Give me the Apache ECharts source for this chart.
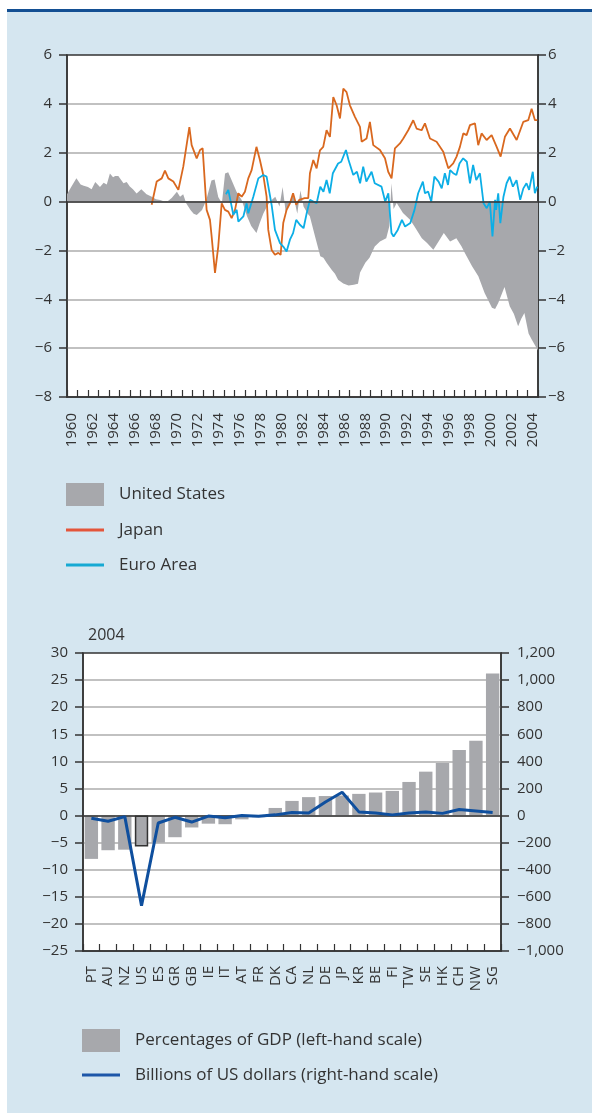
<!DOCTYPE html>
<html>
<head>
<meta charset="utf-8">
<script src="https://cdn.jsdelivr.net/npm/echarts@6/dist/echarts.min.js"></script>
<style>
  html, body { margin: 0; padding: 0; background: #fff; }
  .panel {
    position: absolute; left: 7px; top: 9px; width: 585px; height: 1104px;
    background: #d5e6f0; border-top: 3px solid #134f93; box-sizing: border-box;
  }
  #chart { position: absolute; left: 0; top: 0; width: 592px; height: 1113px; }
</style>
</head>
<body>
<div class="panel"></div>
<div id="chart"></div>
<script>
// 上图：经常账户余额（占 GDP 百分比），[年份, 数值]
const usBalance = [
  [1960.0, 0.3], [1960.4, 0.6], [1960.9, 0.95], [1961.3, 0.7], [1961.6, 0.65], [1962.0, 0.6],
  [1962.35, 0.5], [1962.7, 0.8], [1963.15, 0.6], [1963.5, 0.77], [1963.8, 0.7], [1964.1, 1.15],
  [1964.4, 1.0], [1964.6, 1.05], [1964.9, 1.05], [1965.4, 0.75], [1965.7, 0.8], [1966.0, 0.62],
  [1966.3, 0.5], [1966.65, 0.33], [1967.1, 0.5], [1967.6, 0.3], [1968.1, 0.2], [1968.5, 0.1],
  [1968.9, 0.06], [1969.5, -0.03], [1970.0, 0.15], [1970.5, 0.4], [1970.8, 0.2], [1971.1, 0.3],
  [1971.4, -0.08], [1971.8, -0.35], [1972.1, -0.5], [1972.4, -0.55], [1972.9, -0.35], [1973.3, 0.05],
  [1973.8, 0.86], [1974.1, 0.9], [1974.45, 0.19], [1974.8, -0.07], [1975.1, 1.15], [1975.4, 1.2],
  [1975.7, 0.9], [1976.2, 0.4], [1976.7, 0.05], [1977.2, -0.6], [1977.6, -1.0], [1978.1, -1.29],
  [1978.4, -0.9], [1978.75, -0.5], [1979.1, -0.2], [1979.4, 0.0], [1979.9, 0.2], [1980.3, -0.2],
  [1980.6, 0.6], [1980.9, -0.45], [1981.3, 0.0], [1981.6, 0.3], [1982.0, -0.5], [1982.3, 0.45],
  [1982.6, -0.2], [1983.0, -0.5], [1983.2, -0.6], [1983.7, -1.43], [1984.2, -2.24], [1984.5, -2.3],
  [1984.8, -2.5], [1985.3, -2.8], [1985.6, -2.95], [1985.9, -3.2], [1986.4, -3.35], [1986.9, -3.44],
  [1987.4, -3.4], [1987.8, -3.36], [1988.0, -2.9], [1988.5, -2.5], [1988.9, -2.3], [1989.4, -1.84],
  [1989.9, -1.63], [1990.5, -1.5], [1990.8, -1.0], [1991.0, 0.75], [1991.2, -0.3], [1991.5, -0.06],
  [1992.1, -0.47], [1992.8, -0.75], [1993.2, -1.02], [1993.9, -1.5], [1994.4, -1.7], [1995.0, -1.97],
  [1995.5, -1.63], [1996.0, -1.29], [1996.6, -1.63], [1997.2, -1.5], [1997.7, -1.84], [1998.0, -2.1],
  [1998.7, -2.65], [1999.3, -3.06], [1999.9, -3.74], [2000.6, -4.35], [2000.9, -4.4], [2001.2, -4.15],
  [2001.8, -3.5], [2002.3, -4.28], [2002.7, -4.6], [2003.1, -5.1], [2003.4, -4.8], [2003.7, -4.56],
  [2004.1, -5.4], [2004.4, -5.65], [2005.0, -6.1]
];

const japanBalance = [
  [1968.09, -0.13], [1968.57, 0.82], [1969.05, 0.95], [1969.36, 1.27], [1969.68, 0.95], [1970.16, 0.82],
  [1970.64, 0.48], [1971.11, 1.43], [1971.69, 3.05], [1971.91, 2.31], [1972.39, 1.77], [1972.71, 2.11],
  [1972.96, 2.18], [1973.34, -0.34], [1973.66, -0.75], [1973.82, -1.43], [1974.14, -2.92], [1974.45, -1.84],
  [1974.78, -0.07], [1975.09, -0.34], [1975.41, -0.41], [1975.73, -0.68], [1976.05, -0.34], [1976.37, 0.34],
  [1976.69, 0.2], [1977.0, 0.4], [1977.32, 0.95], [1977.64, 1.29], [1978.1, 2.24], [1978.43, 1.7],
  [1978.75, 1.09], [1979.07, 0.2], [1979.23, -1.16], [1979.55, -1.98], [1979.87, -2.18], [1980.19, -2.1],
  [1980.41, -2.18], [1980.66, -0.88], [1980.98, -0.34], [1981.3, -0.07], [1981.6, 0.34], [1981.9, -0.13],
  [1982.2, 0.07], [1982.7, 0.14], [1983.05, 0.14], [1983.21, 1.16], [1983.53, 1.7], [1983.85, 1.36],
  [1984.17, 2.1], [1984.48, 2.24], [1984.8, 2.92], [1985.12, 2.65], [1985.44, 4.28], [1985.76, 3.94],
  [1986.08, 3.4], [1986.4, 4.62], [1986.71, 4.48], [1987.03, 3.94], [1987.51, 3.47], [1987.99, 3.06],
  [1988.15, 2.45], [1988.62, 2.58], [1988.94, 3.26], [1989.26, 2.31], [1989.9, 2.11], [1990.38, 1.77],
  [1990.69, 1.22], [1991.01, 0.95], [1991.33, 2.18], [1991.81, 2.38], [1992.13, 2.58], [1992.6, 2.92],
  [1993.08, 3.33], [1993.4, 2.99], [1993.88, 2.92], [1994.2, 3.2], [1994.68, 2.58], [1995.31, 2.45],
  [1995.95, 2.04], [1996.43, 1.36], [1996.9, 1.56], [1997.22, 1.84], [1997.54, 2.24], [1997.86, 2.79],
  [1998.18, 2.72], [1998.5, 3.13], [1998.98, 3.2], [1999.29, 2.31], [1999.61, 2.79], [2000.09, 2.52],
  [2000.57, 2.72], [2001.05, 2.24], [2001.43, 1.84], [2001.84, 2.65], [2002.32, 2.99], [2002.96, 2.52],
  [2003.59, 3.26], [2004.07, 3.33], [2004.39, 3.8], [2004.71, 3.33], [2004.93, 3.33]
];

const euroBalance = [
  [1975.19, 0.3], [1975.41, 0.48], [1975.57, 0.14], [1975.89, -0.54], [1976.21, -0.34], [1976.37, -0.82],
  [1976.85, -0.61], [1977.16, -0.07], [1977.32, -0.48], [1977.8, 0.2], [1978.28, 0.95], [1978.75, 1.09],
  [1979.07, 1.02], [1979.55, -0.14], [1979.87, -1.16], [1980.35, -1.7], [1980.66, -1.84], [1980.98, -2.04],
  [1981.3, -1.56], [1981.6, -1.29], [1981.9, -0.75], [1982.25, -0.95], [1982.6, -1.09], [1982.9, -0.48],
  [1983.21, 0.07], [1983.4, 0.07], [1983.85, -0.07], [1984.2, 0.61], [1984.5, 0.4], [1984.8, 0.88],
  [1985.1, 0.34], [1985.4, 1.16], [1985.9, 1.56], [1986.2, 1.63], [1986.65, 2.11], [1986.9, 1.7],
  [1987.35, 1.09], [1987.7, 1.22], [1988.0, 0.75], [1988.3, 1.43], [1988.6, 0.82], [1989.1, 1.22],
  [1989.4, 0.75], [1990.05, 0.61], [1990.4, 0.0], [1990.7, 0.34], [1991.0, -1.29], [1991.2, -1.43],
  [1991.6, -1.16], [1992.0, -0.75], [1992.3, -1.02], [1992.8, -0.88], [1993.2, -0.34], [1993.55, 0.34],
  [1994.0, 0.82], [1994.2, 0.34], [1994.5, 0.41], [1994.8, 0.0], [1995.1, 1.02], [1995.5, 0.82],
  [1995.8, 0.54], [1996.1, 1.16], [1996.4, 0.68], [1996.6, 1.29], [1996.9, 1.16], [1997.2, 1.09],
  [1997.5, 1.56], [1997.85, 1.77], [1998.2, 1.63], [1998.5, 0.75], [1998.8, 1.5], [1999.1, 0.88],
  [1999.45, 1.16], [1999.8, -0.07], [2000.1, -0.27], [2000.4, 0.0], [2000.65, -1.43], [2000.9, 0.07],
  [2001.0, -0.34], [2001.2, 0.34], [2001.4, -0.88], [2001.7, 0.2], [2002.0, 0.75], [2002.3, 1.02],
  [2002.6, 0.61], [2002.95, 0.88], [2003.3, 0.07], [2003.6, 0.54], [2003.9, 0.75], [2004.15, 0.48],
  [2004.5, 1.22], [2004.7, 0.34], [2004.93, 0.61]
];

const yearLabels = [];
for (let y = 1960; y <= 2004; y++) yearLabels.push(String(y));

// 下图：2004 年经常账户余额
const countries = ['PT', 'AU', 'NZ', 'US', 'ES', 'GR', 'GB', 'IE', 'IT', 'AT', 'FR', 'DK', 'CA',
  'NL', 'DE', 'JP', 'KR', 'BE', 'FI', 'TW', 'SE', 'HK', 'CH', 'NW', 'SG'];
const gdpPercent = [-8.0, -6.4, -6.3, -5.7, -5.0, -4.0, -2.2, -1.5, -1.6, -0.7, -0.3, 1.4, 2.7,
  3.4, 3.6, 3.7, 4.0, 4.25, 4.55, 6.2, 8.1, 9.7, 12.1, 13.8, 26.2];
const usdBillions = [-20, -42, -8, -665, -55, -13, -48, -4, -16, 0, -5, 5, 22,
  19, 100, 172, 27, 19, 5, 19, 27, 16, 44, 34, 23];

const INK = '#333';
const GRIDLINE = '#adadad';
const FONT = 'Open Sans';
const minus = s => String(s).replace('-', '\u2212');
const thousands = v => minus(Math.abs(v) >= 1000 ? (v < 0 ? '-' : '') + Math.floor(Math.abs(v) / 1000) + ',' + String(Math.abs(v) % 1000).padStart(3, '0') : v);

const chart = echarts.init(document.getElementById('chart'));

const yAxisBase = (gridIndex, min, max, interval) => ({
  gridIndex, type: 'value', min, max, interval,
  axisLine: { show: true, lineStyle: { color: INK, width: 1.5 } },
  axisTick: { show: true, length: 8, lineStyle: { color: INK, width: 1.5 } },
  axisLabel: { color: INK, fontSize: 15, fontFamily: FONT },
  splitLine: { show: false }
});

const legendText = { fontSize: 17, color: INK, padding: [0, 0, 0, 10], lineHeight: 20 };

const option = {
  animation: false,
  textStyle: { fontFamily: FONT },
  title: {
    text: '2004', left: 83, top: 622,
    textStyle: { fontSize: 16, fontWeight: 'normal', color: INK, fontFamily: FONT }
  },
  legend: [
    {
      data: ['United States'], left: 66, top: 483, padding: 0, icon: 'rect', itemWidth: 38, itemHeight: 23,
      textStyle: legendText, selectedMode: false
    },
    {
      data: [
        { name: 'Japan', itemStyle: { color: '#e4553a' } },
        { name: 'Euro Area', itemStyle: { color: '#16a9d3' } }
      ],
      orient: 'vertical', left: 66, top: 520, padding: 0, icon: 'rect', itemWidth: 38, itemHeight: 3, itemGap: 15,
      textStyle: legendText, selectedMode: false
    },
    {
      data: ['Percentages of GDP (left-hand scale)'], left: 82, top: 1029, padding: 0, icon: 'rect', itemWidth: 38, itemHeight: 23,
      textStyle: legendText, selectedMode: false
    },
    {
      data: [{ name: 'Billions of US dollars (right-hand scale)', itemStyle: { color: '#1d56a8' } }],
      left: 82, top: 1065, padding: 0, icon: 'rect', itemWidth: 38, itemHeight: 3,
      textStyle: legendText, selectedMode: false
    }
  ],
  grid: [
    { left: 67, top: 55, width: 471, height: 342, show: true, backgroundColor: '#fff', borderColor: INK, borderWidth: 1.5 },
    { left: 83, top: 653, width: 418, height: 298, show: true, backgroundColor: '#fff', borderColor: INK, borderWidth: 1.5 }
  ],
  xAxis: [
    {
      gridIndex: 0, type: 'value', min: 1960, max: 2005, interval: 1,
      axisLine: { show: true, onZero: false, lineStyle: { color: INK, width: 1.5 } },
      axisTick: { show: true, inside: true, length: 7, lineStyle: { color: INK, width: 1.2 } },
      axisLabel: { show: false }, splitLine: { show: false }
    },
    {
      gridIndex: 0, type: 'category', data: yearLabels, boundaryGap: true, position: 'bottom',
      axisLine: { show: false }, axisTick: { show: false }, splitLine: { show: false },
      axisLabel: { interval: 1, rotate: 90, margin: 16, fontSize: 15, color: INK, fontFamily: FONT }
    },
    {
      gridIndex: 1, type: 'category', data: countries, boundaryGap: true,
      axisLine: { show: true, onZero: false, lineStyle: { color: INK, width: 1.5 } },
      axisTick: { show: true, inside: true, length: 7, lineStyle: { color: INK, width: 1.2 } },
      axisLabel: { interval: 0, rotate: 90, margin: 15, fontSize: 15, color: INK, fontFamily: FONT }
    }
  ],
  yAxis: [
    Object.assign(yAxisBase(0, -8, 6, 2), {
      axisLabel: { color: INK, fontSize: 15, fontFamily: FONT, margin: 15, formatter: minus },
      splitLine: { show: true, showMinLine: false, showMaxLine: false, lineStyle: { color: GRIDLINE, width: 1.5 } }
    }),
    Object.assign(yAxisBase(0, -8, 6, 2), {
      position: 'right',
      axisLabel: { color: INK, fontSize: 15, fontFamily: FONT, margin: 10, formatter: minus }
    }),
    Object.assign(yAxisBase(1, -25, 30, 5), {
      axisLabel: { color: INK, fontSize: 15, fontFamily: FONT, margin: 15, formatter: minus },
      splitLine: { show: true, showMinLine: false, showMaxLine: false, lineStyle: { color: GRIDLINE, width: 1.5 } }
    }),
    Object.assign(yAxisBase(1, -1000, 1200, 200), {
      position: 'right',
      axisLabel: { color: INK, fontSize: 15, fontFamily: FONT, margin: 16, formatter: thousands }
    })
  ],
  series: [
    {
      name: 'United States', type: 'line', xAxisIndex: 0, yAxisIndex: 0, data: usBalance,
      symbol: 'none', color: '#a7a8ac', lineStyle: { width: 0 },
      areaStyle: { color: '#a7a8ac', opacity: 1 }, z: 2,
      markLine: {
        silent: true, symbol: 'none', label: { show: false },
        lineStyle: { color: INK, width: 1.5, type: 'solid' }, data: [{ yAxis: 0 }]
      }
    },
    {
      name: 'Japan', type: 'line', xAxisIndex: 0, yAxisIndex: 0, data: japanBalance,
      symbol: 'none', color: '#d9681f', lineStyle: { width: 1.8 }, z: 4
    },
    {
      name: 'Euro Area', type: 'line', xAxisIndex: 0, yAxisIndex: 0, data: euroBalance,
      symbol: 'none', color: '#0caee6', lineStyle: { width: 1.8 }, z: 4
    },
    {
      name: 'Percentages of GDP (left-hand scale)', type: 'bar', xAxisIndex: 2, yAxisIndex: 2,
      barCategoryGap: '20%', color: '#a7a8ac',
      data: gdpPercent.map((v, i) => countries[i] === 'US'
        ? { value: v, itemStyle: { borderColor: INK, borderWidth: 1.5 } }
        : v),
      markLine: {
        silent: true, symbol: 'none', label: { show: false },
        lineStyle: { color: INK, width: 1.5, type: 'solid' }, data: [{ yAxis: 0 }]
      }
    },
    {
      name: 'Billions of US dollars (right-hand scale)', type: 'line', xAxisIndex: 2, yAxisIndex: 3,
      data: usdBillions, symbol: 'none', color: '#0f4f9e', lineStyle: { width: 3 }, z: 5
    }
  ]
};

chart.setOption(option);
</script>
</body>
</html>
